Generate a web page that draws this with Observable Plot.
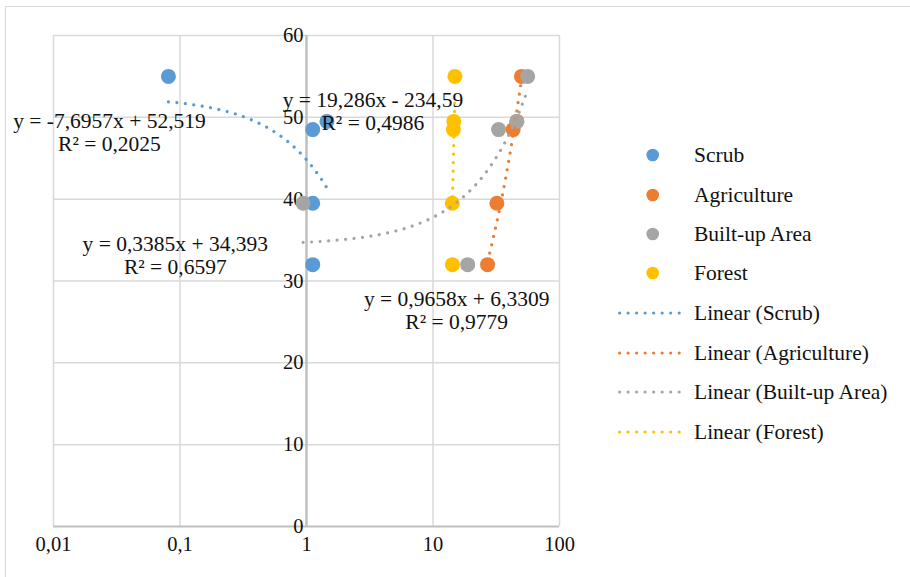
<!DOCTYPE html>
<html>
<head>
<meta charset="utf-8">
<script src="https://cdn.jsdelivr.net/npm/d3@7"></script>
<script src="https://cdn.jsdelivr.net/npm/@observablehq/plot@0.6"></script>
<style>
  html, body { margin: 0; padding: 0; background: #fff; }
  #wrap { position: relative; width: 910px; height: 577px; overflow: hidden; font-family: "Liberation Serif", "Times New Roman", serif; color: #111; }
  #frame { position: absolute; left: 5px; top: 6px; width: 940px; height: 620px; border: 1.5px solid #d9d9d9; box-sizing: border-box; pointer-events: none; }
  #chart { position: absolute; left: 0; top: 0; }
  #legend { position: absolute; left: 0; top: 0; width: 910px; height: 577px; pointer-events: none; }
  .row { position: absolute; left: 618px; height: 40px; display: flex; align-items: center; font-size: 21.5px; white-space: nowrap; }
  .row svg { display: block; margin-right: 7px; }
</style>
</head>
<body>
<div id="wrap">
  <div id="frame"></div>
  <div id="chart"></div>
  <div id="legend"></div>
</div>
<script>
// ---- data ----
const series = ["Scrub", "Agriculture", "Built-up Area", "Forest"];
const colors = ["#5B9BD5", "#ED7D31", "#A5A5A5", "#FFC000"];
const yValues = [32, 39.5, 48.5, 49.5, 55];
const scrubX = [1.12, 1.12, 1.12, 1.45, 0.081];
const agricultureX = [27, 32, 43, 46, 50];
const builtUpX = [18.8, 0.94, 33, 46, 56];
const forestX = [14.25, 14.2, 14.5, 14.6, 14.9];
const slopes = [-7.6957, 0.9658, 0.3385, 19.286];
const intercepts = [52.519, 6.3309, 34.393, -234.59];
const equationTexts = ["y = -7,6957x + 52,519", "y = 0,9658x + 6,3309", "y = 0,3385x + 34,393", "y = 19,286x - 234,59"];
const r2Texts = ["R² = 0,2025", "R² = 0,9779", "R² = 0,6597", "R² = 0,4986"];
const xTicks = [0.01, 0.1, 1, 10, 100];
const xTickLabels = ["0,01", "0,1", "1", "10", "100"];
const yTicks = [0, 10, 20, 30, 40, 50, 60];
const yTickLabels = ["0", "10", "20", "30", "40", "50", "60"];

// ---- layout (label anchors in data units) ----
const labelAnchors = [[0.0277, 48.23], [15.4, 26.46], [0.0918, 33.17], [3.35, 50.79]];

const xArrays = [scrubX, agricultureX, builtUpX, forestX];
const pointRows = series.flatMap((s, i) => xArrays[i].map((xv, j) => ({series: s, x: xv, y: yValues[j]})));
const trendRows = series.flatMap((s, i) => {
  const xs = xArrays[i];
  const lo = Math.min(...xs), hi = Math.max(...xs);
  const n = 120;
  return d3.range(n + 1).map(k => {
    const xv = lo * Math.pow(hi / lo, k / n);
    return {series: s, x: xv, y: slopes[i] * xv + intercepts[i]};
  });
});
const labelRows = series.map((s, i) => ({x: labelAnchors[i][0], y: labelAnchors[i][1], text: equationTexts[i] + "\n" + r2Texts[i]}));
const xTickRows = xTicks.map((v, i) => ({v, label: xTickLabels[i]}));
const yTickRows = yTicks.map((v, i) => ({v, label: yTickLabels[i]}));

const font = "'Liberation Serif', 'Times New Roman', serif";

const plot = Plot.plot({
  width: 910,
  height: 577,
  marginLeft: 53,
  marginRight: 351,
  marginTop: 35,
  marginBottom: 51,
  style: {fontFamily: font, fontSize: "20px", background: "transparent", overflow: "visible"},
  x: {type: "log", domain: [0.01, 100], axis: null},
  y: {domain: [0, 60], axis: null},
  color: {domain: series, range: colors},
  marks: [
    Plot.ruleX(xTicks.filter(v => v !== 1), {stroke: "#d9d9d9", strokeWidth: 1.5}),
    Plot.ruleY(yTicks.filter(v => v !== 0), {stroke: "#d9d9d9", strokeWidth: 1.5}),
    Plot.ruleY([0], {stroke: "#bfbfbf", strokeWidth: 2}),
    Plot.ruleX([1], {stroke: "#bfbfbf", strokeWidth: 2.5}),
    Plot.text(xTickRows, {x: "v", text: "label", frameAnchor: "bottom", dy: 24, fontSize: 20.5, fill: "#111", textAnchor: "middle"}),
    Plot.text(yTickRows, {x: () => 1, y: "v", text: "label", dx: -3, fontSize: 20.5, fill: "#111", textAnchor: "end"}),
    Plot.dot(pointRows, {x: "x", y: "y", r: 7.5, fill: "series", stroke: "none"}),
    Plot.line(trendRows, {x: "x", y: "y", z: "series", stroke: "series", strokeWidth: 3.2, strokeDasharray: "0.01 8.5", strokeLinecap: "round", curve: "linear"}),
    Plot.text(labelRows, {x: "x", y: "y", text: "text", fontSize: 21.5, lineHeight: 1.09, fill: "#111", textAnchor: "middle"})
  ]
});
document.getElementById("chart").appendChild(plot);

// ---- legend ----
const legend = document.getElementById("legend");
const rowCenters = [155, 195, 234, 273, 313, 353, 392, 432];
const items = series.map((s, i) => ({kind: "dot", label: s, color: colors[i]}))
  .concat(series.map((s, i) => ({kind: "line", label: "Linear (" + s + ")", color: colors[i]})));
items.forEach((it, k) => {
  const row = document.createElement("div");
  row.className = "row";
  row.style.top = (rowCenters[k] - 20) + "px";
  const ns = "http://www.w3.org/2000/svg";
  const svg = document.createElementNS(ns, "svg");
  svg.setAttribute("width", 69);
  svg.setAttribute("height", 20);
  if (it.kind === "dot") {
    const c = document.createElementNS(ns, "circle");
    c.setAttribute("cx", 34.7); c.setAttribute("cy", 10); c.setAttribute("r", 6.3);
    c.setAttribute("fill", it.color);
    svg.appendChild(c);
  } else {
    const l = document.createElementNS(ns, "line");
    l.setAttribute("x1", 1.6); l.setAttribute("x2", 68); l.setAttribute("y1", 10); l.setAttribute("y2", 10);
    l.setAttribute("stroke", it.color); l.setAttribute("stroke-width", 3.2);
    l.setAttribute("stroke-dasharray", "0.01 8.5"); l.setAttribute("stroke-linecap", "round");
    svg.appendChild(l);
  }
  row.appendChild(svg);
  const t = document.createElement("span");
  t.textContent = it.label;
  row.appendChild(t);
  legend.appendChild(row);
});
</script>
</body>
</html>
